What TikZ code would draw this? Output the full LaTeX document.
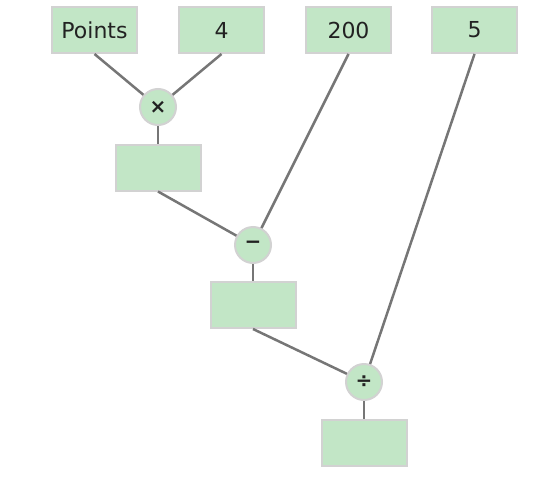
\documentclass[tikz,border=0pt]{standalone}
\usepackage{fontspec}
\setmainfont{DejaVu Sans}
\usetikzlibrary{positioning}
\definecolor{cellfill}{HTML}{C2E6C6}
\definecolor{celledge}{HTML}{D2D2D2}
\definecolor{wire}{HTML}{767676}
\definecolor{ink}{HTML}{222222}
\tikzset{
  every picture/.style={
    line width=2.5pt
  },
  cell/.style={draw=celledge, fill=cellfill, line width=2pt, minimum width=85pt,
    minimum height=46pt, inner sep=0pt, text=ink, font=\fontsize{22}{26}\selectfont},
  op/.style={circle, draw=celledge, fill=cellfill, line width=2pt, minimum size=36pt,
    inner sep=0pt, text=ink, font=\bfseries\fontsize{20}{24}\selectfont},
  wire/.style={draw=wire}
}

\begin{document}
\begin{tikzpicture}[x=1pt, y=-1pt]
  \useasboundingbox (0,0) rectangle (545,487);
  \node[cell] (points) at (94.5,30) {Points};
  \node[cell] (four)   at (221.5,30) {4};
  \node[cell] (twohundred) at (348.5,30) {200};
  \node[cell] (five)   at (474.5,30) {5};

  \node[op] (times) at (158,107) {×};
  \node[cell] (product) at (158,167.5) {};
  \node[op] (minus) at (253,245) {−};
  \node[cell] (difference) at (253,305) {};
  \node[op] (divide) at (364,382) {÷};
  \node[cell] (quotient) at (364,443) {};

  \draw[wire] (points.south) -- (times);
  \draw[wire] (four.south) -- (times);
  \draw[wire] (times) -- (product);
  \draw[wire] (product.south) -- (minus);
  \draw[wire] (twohundred.south) -- (minus);
  \draw[wire] (minus) -- (difference);
  \draw[wire] (difference.south) -- (divide);
  \draw[wire] (five.south) -- (divide);
  \draw[wire] (divide) -- (quotient);
\end{tikzpicture}
\end{document}
